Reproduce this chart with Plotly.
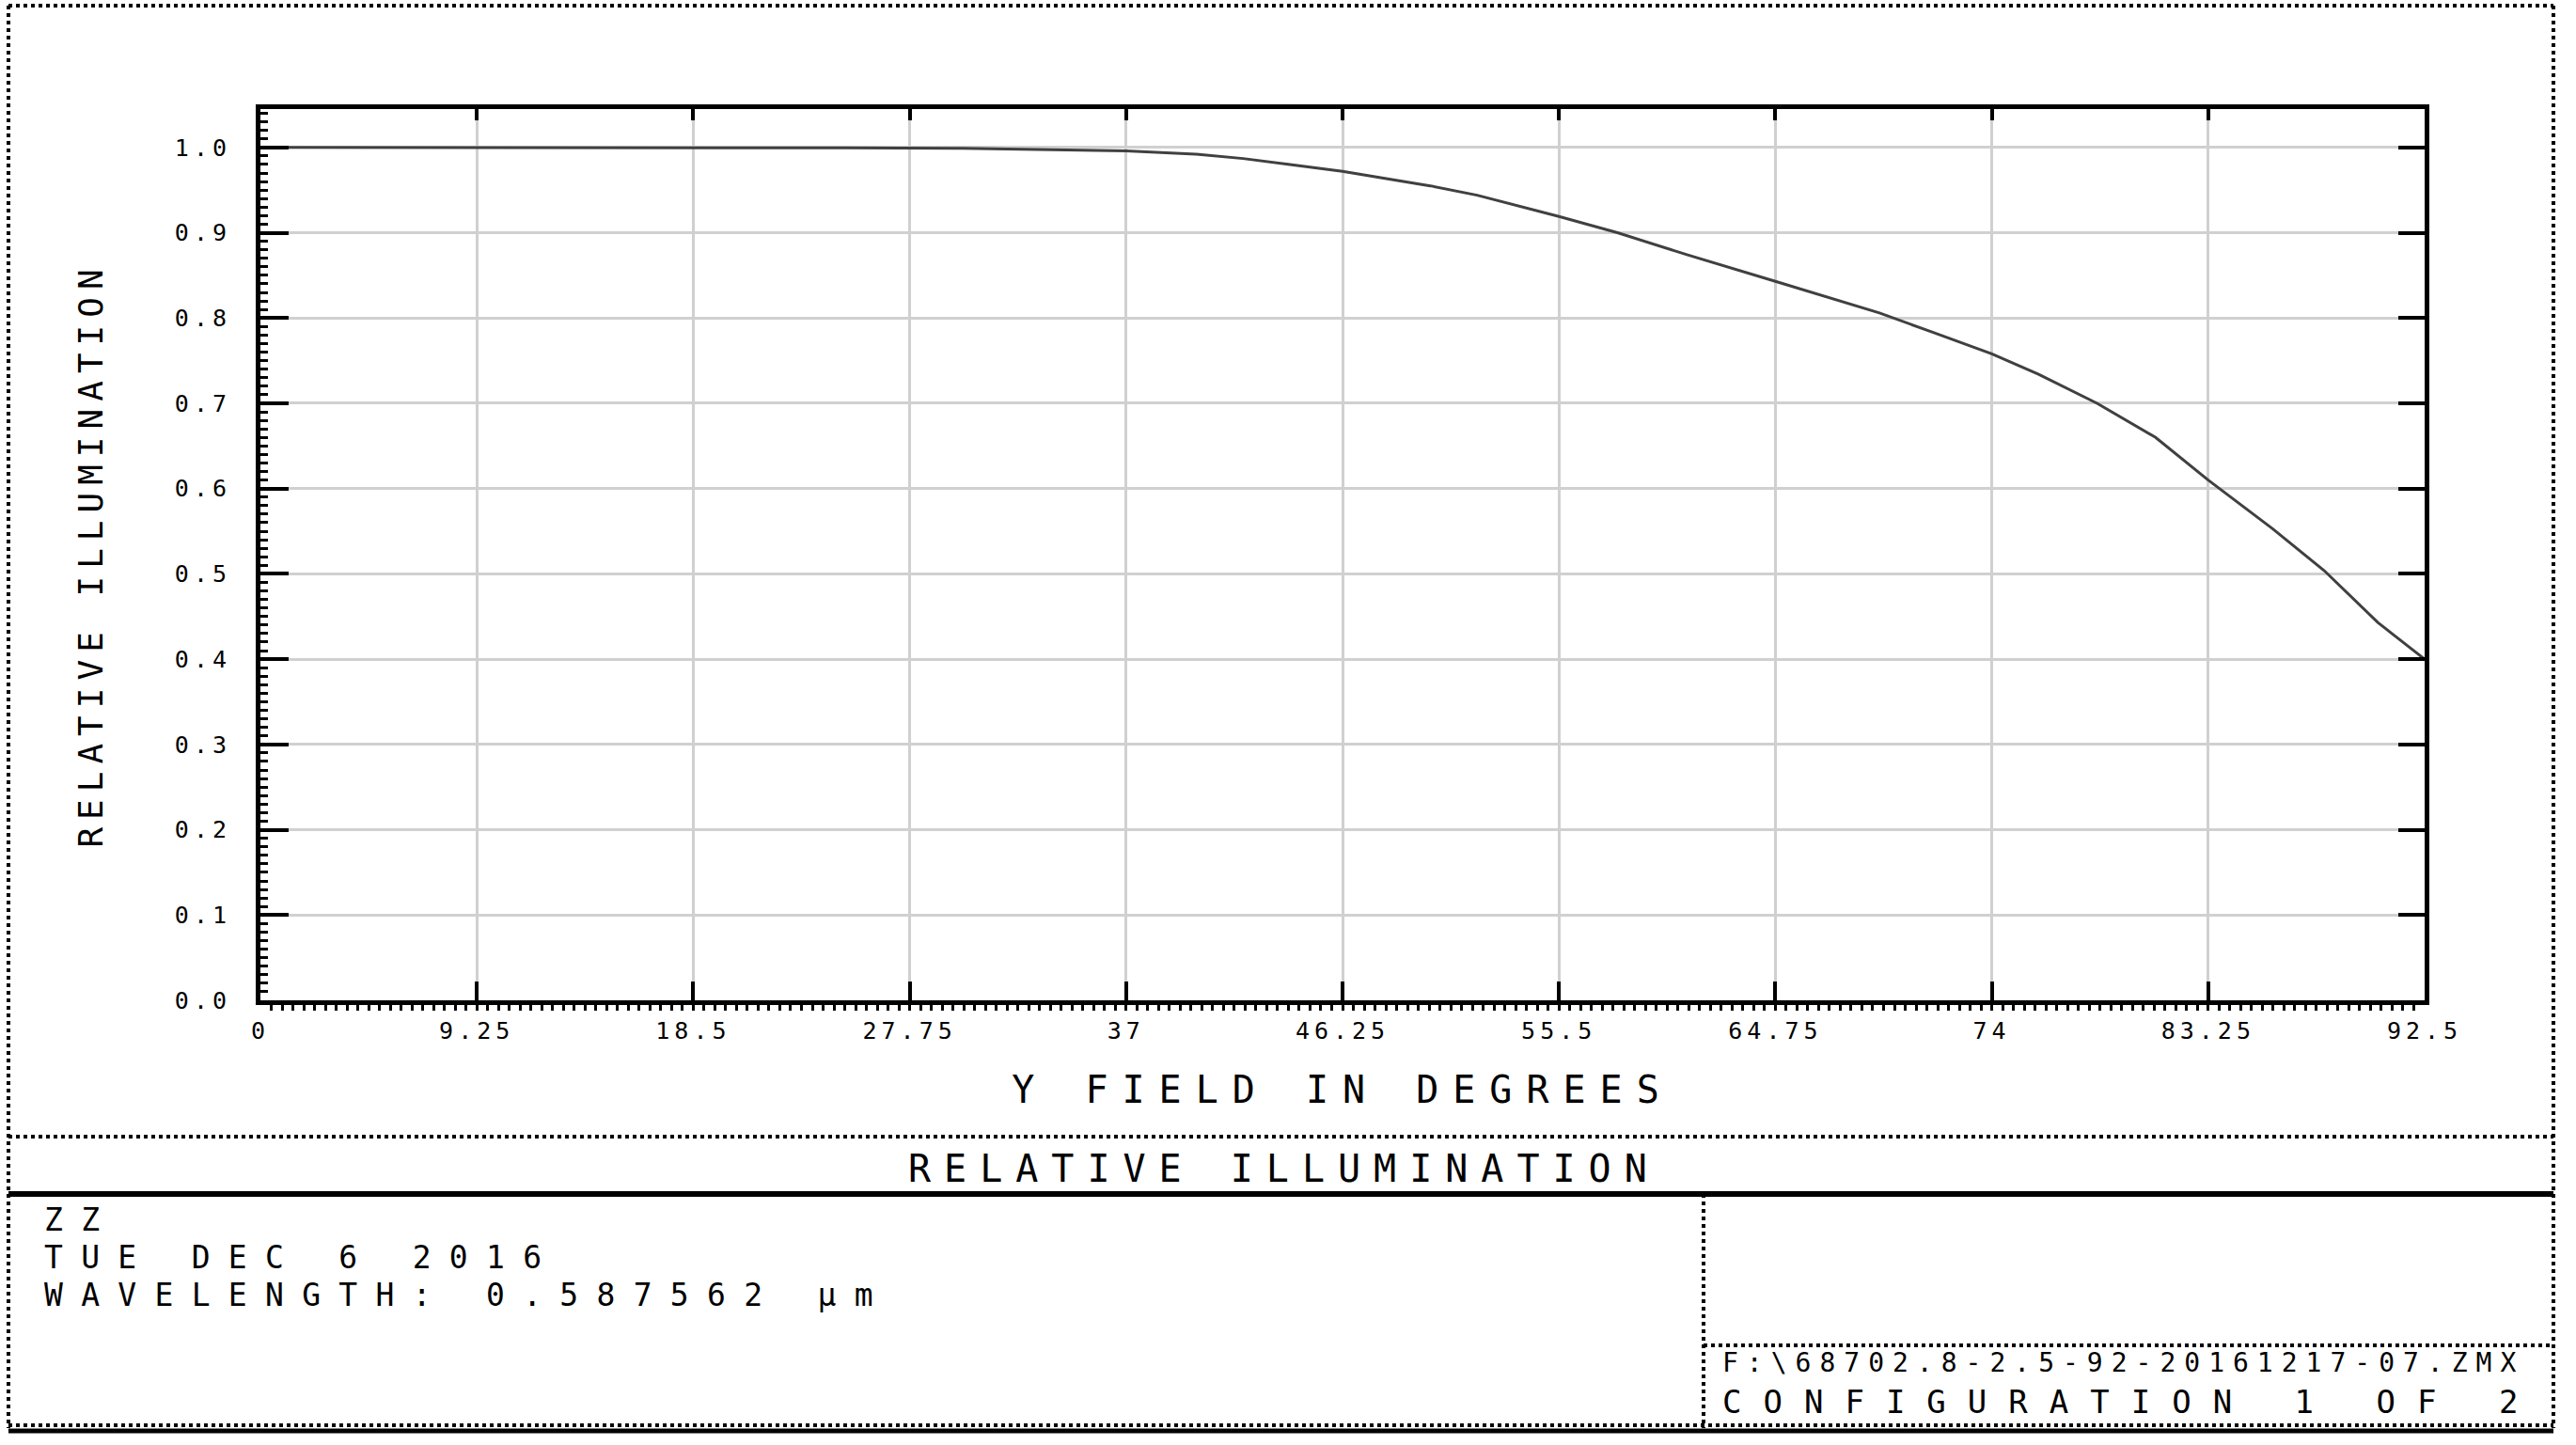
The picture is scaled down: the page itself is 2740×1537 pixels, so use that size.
import plotly.graph_objects as go

# ---------------- data ----------------
field_deg = [0, 5, 10, 15, 20, 25, 30, 33, 37, 40, 42, 44, 46.25, 48, 50, 52,
             55.5, 58, 61, 64.75, 67.5, 69.2, 71.5, 74, 76, 78.5, 81, 83.25,
             86, 88.2, 90.5, 92.5]
rel_illum = [1.0, 1.0, 1.0, 1.0, 1.0, 0.9995, 0.999, 0.998, 0.996, 0.992, 0.987,
             0.980, 0.972, 0.964, 0.955, 0.944, 0.919, 0.900, 0.874, 0.843, 0.820,
             0.806, 0.783, 0.758, 0.734, 0.700, 0.660, 0.610, 0.553, 0.504, 0.443,
             0.400]

x_tick_vals = [0, 9.25, 18.5, 27.75, 37, 46.25, 55.5, 64.75, 74, 83.25, 92.5]
x_tick_labels = ["0", "9.25", "18.5", "27.75", "37", "46.25", "55.5", "64.75",
                 "74", "83.25", "92.5"]
y_tick_vals = [0.0, 0.1, 0.2, 0.3, 0.4, 0.5, 0.6, 0.7, 0.8, 0.9, 1.0]
y_tick_labels = ["0.0", "0.1", "0.2", "0.3", "0.4", "0.5", "0.6", "0.7", "0.8",
                 "0.9", "1.0"]

title_text = "RELATIVE ILLUMINATION"
x_title = "Y FIELD IN DEGREES"
y_title = "RELATIVE ILLUMINATION"
info_lines = ["ZZ", "TUE DEC 6 2016", "WAVELENGTH: 0.587562 \u00b5m"]
file_lines = ["F:\\68702.8-2.5-92-20161217-07.ZMX", "CONFIGURATION 1 OF 2"]

# ---------------- layout geometry (pixels) ----------------
W_PX, H_PX = 2740, 1537
L, R, T, B = 277, 2579, 116, 1064
PW, PH = R - L, B - T
FONT = "DejaVu Sans Mono"


def px(x):
    return (x - L) / PW


def py(y):
    return (B - y) / PH


def sp(text, ls):
    return '<span style="letter-spacing:%spx">%s</span>' % (ls, text)


fig = go.Figure()
fig.add_trace(go.Scatter(x=field_deg, y=rel_illum, mode="lines",
                         line=dict(color="#404040", width=3),
                         showlegend=False, hoverinfo="skip"))

axis_common = dict(showline=True, linecolor="black", linewidth=5,
                   zeroline=False, tickcolor="black", tickwidth=4,
                   tickfont=dict(family=FONT, size=25, color="black"))

fig.update_layout(
    width=W_PX, height=H_PX,
    margin=dict(l=L, r=W_PX - R, t=T, b=H_PX - B, autoexpand=False),
    paper_bgcolor="white", plot_bgcolor="white",
    showlegend=False,
    xaxis=dict(range=[0, 92.5], tickvals=x_tick_vals,
               ticktext=[sp(t, 5) for t in x_tick_labels],
               ticks="inside", ticklen=20, ticklabelstandoff=6,
               showgrid=True, gridcolor="#d0d0d0", gridwidth=3,
               minor=dict(ticks="outside", ticklen=6, tickwidth=3,
                          tick0=0, dtick=0.4625, tickcolor="black",
                          showgrid=False),
               title=dict(text=sp(x_title, 15),
                          font=dict(family=FONT, size=40, color="black"),
                          standoff=36),
               automargin=False, **axis_common),
    yaxis=dict(range=[0, 1.045], tickvals=y_tick_vals,
               ticktext=[sp(t, 5) for t in y_tick_labels],
               ticks="inside", ticklen=30, ticklabelstandoff=21,
               showgrid=True, gridcolor="#d0d0d0", gridwidth=3,
               minor=dict(ticks="inside", ticklen=8, tickwidth=3,
                          tick0=0, dtick=0.01, tickcolor="black",
                          showgrid=False),
               title=dict(text=sp(y_title, 8),
                          font=dict(family=FONT, size=36, color="black"),
                          standoff=67),
               automargin=False, **axis_common),
    xaxis2=dict(range=[0, 92.5], overlaying="x", side="top", matches="x",
                tickvals=x_tick_vals, ticks="inside", ticklen=12,
                showticklabels=False, showgrid=False, automargin=False,
                **axis_common),
    yaxis2=dict(range=[0, 1.045], overlaying="y", side="right", matches="y",
                tickvals=y_tick_vals, ticks="inside", ticklen=28,
                showticklabels=False, showgrid=False, automargin=False,
                **axis_common),
)
# invisible trace to activate secondary axes
fig.add_trace(go.Scatter(x=[None], y=[None], xaxis="x2", yaxis="y2",
                         showlegend=False, hoverinfo="skip"))

# ---------------- frame lines ----------------
shapes = []


def line(x0, y0, x1, y1, width=4, dash="dot"):
    shapes.append(dict(type="line", xref="paper", yref="paper",
                       x0=px(x0), y0=py(y0), x1=px(x1), y1=py(y1),
                       line=dict(color="black", width=width, dash=dash)))


line(9, 6, 2716, 6)            # top border
line(9, 6, 9, 1519)            # left border
line(2716, 6, 2716, 1519)      # right border
line(9, 1516, 2716, 1516)      # bottom dotted
line(9, 1522, 2716, 1522, width=5, dash="solid")   # bottom solid
line(9, 1209, 2716, 1209)      # separator above title
line(9, 1270, 2716, 1270, width=6, dash="solid")   # line under title
line(1812, 1270, 1812, 1519)   # vertical divider
line(1812, 1431, 2716, 1431)   # right box divider
fig.update_layout(shapes=shapes)

# ---------------- texts ----------------
ann = []


def text(x, y, s, size, ls, xanchor="left"):
    ann.append(dict(xref="paper", yref="paper", x=px(x), y=py(y),
                    text=sp(s, ls), showarrow=False, xanchor=xanchor,
                    yanchor="middle",
                    font=dict(family=FONT, size=size, color="black")))


text(1366, 1243, title_text, 40, 14, xanchor="center")
for i, s in enumerate(info_lines):
    text(45, 1297 + i * 40, s, 33, 19.3)
text(1830, 1449, file_lines[0], 28, 9)
text(1830, 1491, file_lines[1], 34, 23)
fig.update_layout(annotations=ann)

fig.write_html("out.html",
               config={"displayModeBar": False},
               post_script="document.body.style.margin='0px';"
                           "document.body.style.overflow='hidden';")
